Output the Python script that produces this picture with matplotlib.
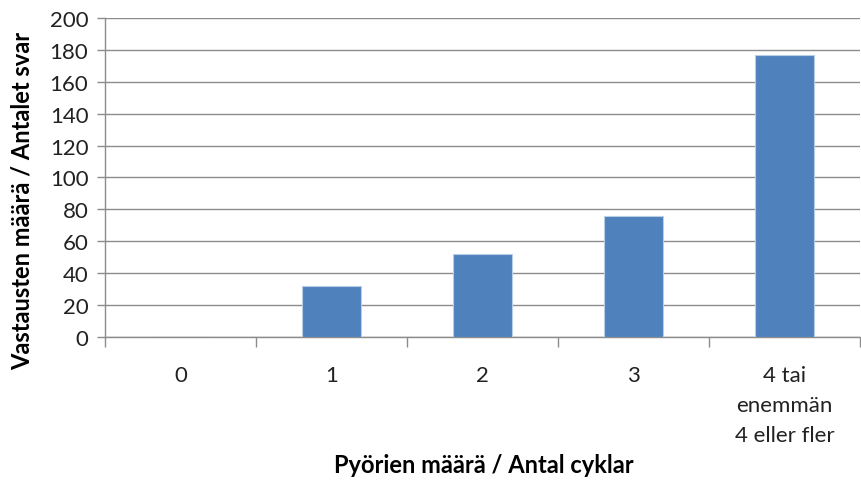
import matplotlib
matplotlib.use("Agg")
import matplotlib.pyplot as plt
import numpy as np

categories = ["0", "1", "2", "3", "4 tai\nenemmän\n4 eller fler"]
counts = [0, 32, 52, 76, 177]
y_ticks = [0, 20, 40, 60, 80, 100, 120, 140, 160, 180, 200]

plt.rcParams['font.family'] = ['Lato', 'DejaVu Sans']

fig = plt.figure(figsize=(8.61, 4.85), dpi=100)
ax = fig.add_axes([0.122, 0.303, 0.877, 0.658])

x = np.arange(len(categories))
ax.bar(x, counts, width=0.39, color="#4F81BD", edgecolor="#B9CDE5", linewidth=0.8, zorder=3)

ax.set_xlim(-0.5, len(categories) - 0.5)
ax.set_ylim(0, 200)
ax.set_yticks(y_ticks)
ax.set_yticklabels([str(v) for v in y_ticks], fontsize=16, color="#222222")
ax.grid(axis="y", color="#8C8C8C", linewidth=1.0, zorder=0)

ax.set_xticks(x)
ax.set_xticklabels(categories, fontsize=16, color="#222222", linespacing=1.62, va="top")
ax.set_xticks(np.arange(len(categories) + 1) - 0.5, minor=True)
ax.tick_params(axis="x", which="major", length=0, pad=20)
ax.tick_params(axis="x", which="minor", length=7, color="#8C8C8C", width=1)
ax.tick_params(axis="y", length=6, color="#8C8C8C", width=1, pad=6)

for side in ["top", "right"]:
    ax.spines[side].set_visible(False)
for side in ["left", "bottom"]:
    ax.spines[side].set_color("#8C8C8C")
    ax.spines[side].set_linewidth(1)

fig.text(0.026, 0.586, "Vastausten määrä / Antalet svar", fontsize=17, fontweight="bold",
         rotation=90, ha="center", va="center")
fig.text(0.562, 0.025, "Pyörien määrä / Antal cyklar", fontsize=17, fontweight="bold",
         ha="center", va="baseline")

fig.savefig("out.png", dpi=100)
